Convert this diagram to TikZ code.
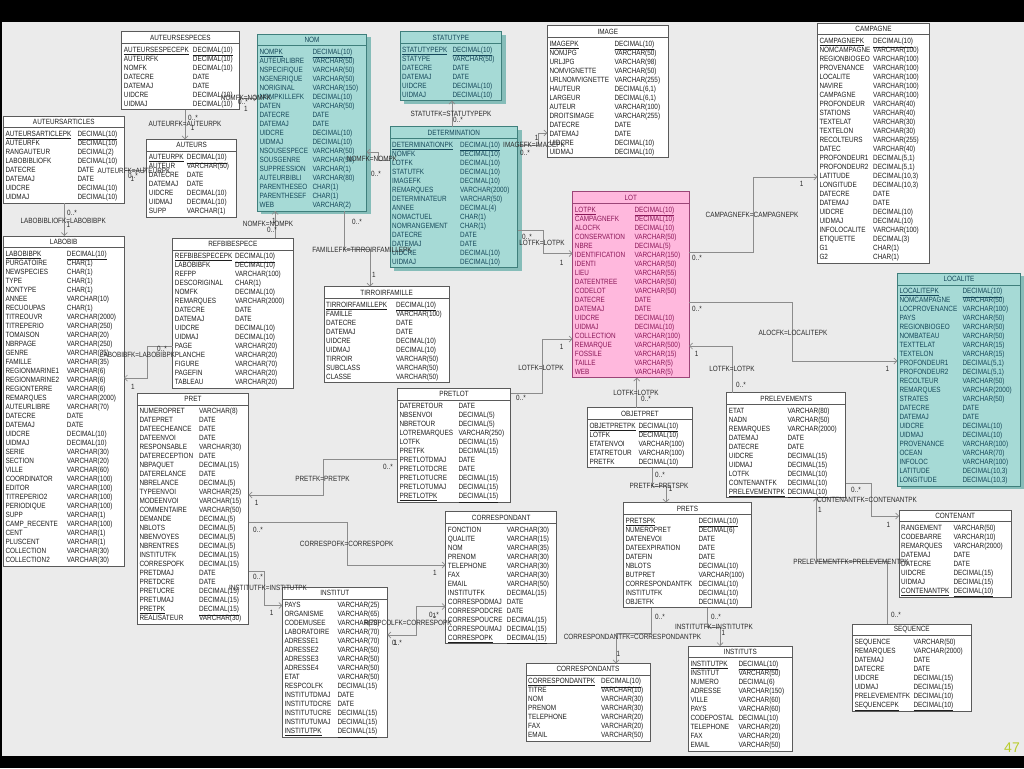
\documentclass[tikz,border=0pt]{standalone}
\usepackage{fontspec}
\setmainfont{Liberation Sans}
\newfontfamily\ertfam{Liberation Sans}[FakeStretch=0.84]
\usetikzlibrary{arrows.meta}
\definecolor{bgcol}{HTML}{EBEBEB}
\definecolor{wtdraw}{HTML}{5A5A5A}
\definecolor{wttext}{HTML}{1E1E1E}
\definecolor{tlfill}{HTML}{A6DAD6}
\definecolor{tldraw}{HTML}{3F7F7C}
\definecolor{tltext}{HTML}{16485A}
\definecolor{tlshadow}{HTML}{86BDB9}
\definecolor{pkfill}{HTML}{FFB8DD}
\definecolor{pkdraw}{HTML}{9B4577}
\definecolor{pktext}{HTML}{8A1858}
\definecolor{conncol}{HTML}{8C8C8C}
\definecolor{labcol}{HTML}{2A2A2A}
\definecolor{numcol}{HTML}{B9CC2A}
\newcommand\ertfont{\ertfam\fontsize{7.6}{8}\selectfont}
\newcommand\ulpk[1]{\underline{#1}}
\tikzset{
 wt/.code={\def\tbfill{white}\def\tbdraw{wtdraw}\def\tbtext{wttext}\def\tbsh{0}},
 tl/.code={\def\tbfill{tlfill}\def\tbdraw{tldraw}\def\tbtext{tltext}\def\tbsh{1}},
 pinkt/.code={\def\tbfill{pkfill}\def\tbdraw{pkdraw}\def\tbtext{pktext}\def\tbsh{0}},
 conn/.style={draw=conncol, line width=0.7pt, -{Straight Barb[length=3pt,width=6pt]}},
 conntwo/.style={draw=conncol, line width=0.7pt, {Straight Barb[length=3pt,width=6pt]}-{Straight Barb[length=3pt,width=6pt]}},
 lab/.style={font=\ertfont, text=labcol, inner sep=0pt},
 cell/.style={font=\ertfont, text=\tbtext, anchor=base west, inner sep=0pt},
}
\newcommand\ertable[9]{%
 \begin{scope}[#2]
 \pgfmathsetmacro\ertB{#4+18+(#7-1)*9+6}%
 \pgfmathsetmacro\ertX{(#3+#5)/2}%
 \pgfmathsetmacro\ertY{(#4+\ertB)/2}%
 \pgfmathsetmacro\ertW{#5-#3}%
 \pgfmathsetmacro\ertH{\ertB-#4}%
 \ifnum\tbsh=1 \fill[tlshadow] ({#3+4},{#4+3}) rectangle ({#5+4},{\ertB+3});\fi
 \node[draw=\tbdraw, fill=\tbfill, line width=0.8pt, minimum width=\ertW pt, minimum height=\ertH pt, inner sep=0pt, outer sep=0pt] (#1) at (\ertX,\ertY) {};
 \node[font=\ertfont, text=\tbtext, inner sep=0pt] (#1-title) at (\ertX,{#4+6}) {#8};
 \draw[draw=\tbdraw, line width=0.6pt] (#3,{#4+11.5}) -- (#5,{#4+11.5});
 \foreach \ca/\cb [count=\ci from 0] in {#9} {
   \node[cell] (#1-n\ci) at ({#3+2},{#4+20.6+\ci*9}) {\ca};
   \node[cell] (#1-t\ci) at (#6,{#4+20.6+\ci*9}) {\cb};
 }
 \end{scope}}
\begin{document}
\begin{tikzpicture}[x=1pt,y=-1pt]
\useasboundingbox (0,0) rectangle (1024,768);
\fill[bgcol] (0,0) rectangle (1024,768);
\fill[black] (0,0) rectangle (1024,22);
\fill[black] (0,756) rectangle (1024,768);
\fill[black] (0,0) rectangle (2,768);

\ertable{AUTEURSESPECES}{wt}{121.7}{31.7}{239}{192.7}{7}{AUTEURSESPECES}{\ulpk{AUTEURSESPECEPK}/\ulpk{DECIMAL(10)}, AUTEURFK/DECIMAL(10), NOMFK/DECIMAL(10), DATECRE/DATE, DATEMAJ/DATE, UIDCRE/DECIMAL(10), UIDMAJ/DECIMAL(10)}

\ertable{NOM}{tl}{257.3}{34}{366.7}{312.3}{18}{NOM}{\ulpk{NOMPK}/\ulpk{DECIMAL(10)}, AUTEURLIBRE/VARCHAR(50), NSPECIFIQUE/VARCHAR(50), NGENERIQUE/VARCHAR(50), NORIGINAL/VARCHAR(150), NOMPKILLEFK/DECIMAL(10), DATEN/VARCHAR(50), DATECRE/DATE, DATEMAJ/DATE, UIDCRE/DECIMAL(10), UIDMAJ/DECIMAL(10), NSOUSESPECE/VARCHAR(50), SOUSGENRE/VARCHAR(50), SUPPRESSION/VARCHAR(1), AUTEURBIBLI/VARCHAR(80), PARENTHESEO/CHAR(1), PARENTHESEF/CHAR(1), WEB/VARCHAR(2)}

\ertable{STATUTYPE}{tl}{400}{31.7}{501.7}{452.3}{6}{STATUTYPE}{\ulpk{STATUTYPEPK}/\ulpk{DECIMAL(10)}, STATYPE/VARCHAR(50), DATECRE/DATE, DATEMAJ/DATE, UIDCRE/DECIMAL(10), UIDMAJ/DECIMAL(10)}

\ertable{IMAGE}{wt}{547.3}{25.7}{668.3}{614.3}{13}{IMAGE}{\ulpk{IMAGEPK}/\ulpk{DECIMAL(10)}, NOMJPG/VARCHAR(50), URLJPG/VARCHAR(98), NOMVIGNETTE/VARCHAR(50), URLNOMVIGNETTE/VARCHAR(255), HAUTEUR/{DECIMAL(6,1)}, LARGEUR/{DECIMAL(6,1)}, AUTEUR/VARCHAR(100), DROITSIMAGE/VARCHAR(255), DATECRE/DATE, DATEMAJ/DATE, UIDCRE/DECIMAL(10), UIDMAJ/DECIMAL(10)}

\ertable{CAMPAGNE}{wt}{817.3}{23.3}{929.7}{873}{25}{CAMPAGNE}{\ulpk{CAMPAGNEPK}/\ulpk{DECIMAL(10)}, NOMCAMPAGNE/VARCHAR(100), REGIONBIOGEO/VARCHAR(100), PROVENANCE/VARCHAR(100), LOCALITE/VARCHAR(100), NAVIRE/VARCHAR(100), CAMPAGNE/VARCHAR(100), PROFONDEUR/VARCHAR(40), STATIONS/VARCHAR(40), TEXTELAT/VARCHAR(30), TEXTELON/VARCHAR(30), RECOLTEURS/VARCHAR(255), DATEC/VARCHAR(40), PROFONDEUR1/{DECIMAL(5,1)}, PROFONDEUR2/{DECIMAL(5,1)}, LATITUDE/{DECIMAL(10,3)}, LONGITUDE/{DECIMAL(10,3)}, DATECRE/DATE, DATEMAJ/DATE, UIDCRE/DECIMAL(10), UIDMAJ/DECIMAL(10), INFOLOCALITE/VARCHAR(100), ETIQUETTE/DECIMAL(3), G1/CHAR(1), G2/CHAR(1)}

\ertable{AUTEURSARTICLES}{wt}{3.3}{116}{124.3}{77.3}{8}{AUTEURSARTICLES}{\ulpk{AUTEURSARTICLEPK}/\ulpk{DECIMAL(10)}, AUTEURFK/DECIMAL(10), RANGAUTEUR/DECIMAL(2), LABOBIBLIOFK/DECIMAL(10), DATECRE/DATE, DATEMAJ/DATE, UIDCRE/DECIMAL(10), UIDMAJ/DECIMAL(10)}

\ertable{AUTEURS}{wt}{146.7}{139.3}{236.7}{186.7}{7}{AUTEURS}{\ulpk{AUTEURPK}/\ulpk{DECIMAL(10)}, AUTEUR/VARCHAR(50), DATECRE/DATE, DATEMAJ/DATE, UIDCRE/DECIMAL(10), UIDMAJ/DECIMAL(10), SUPP/VARCHAR(1)}

\ertable{DETERMINATION}{tl}{390}{126.7}{517.7}{460}{14}{DETERMINATION}{\ulpk{DETERMINATIONPK}/\ulpk{DECIMAL(10)}, NOMFK/DECIMAL(10), LOTFK/DECIMAL(10), STATUTFK/DECIMAL(10), IMAGEFK/DECIMAL(10), REMARQUES/VARCHAR(2000), DETERMINATEUR/VARCHAR(50), ANNEE/DECIMAL(4), NOMACTUEL/CHAR(1), NOMRANGEMENT/CHAR(1), DATECRE/DATE, DATEMAJ/DATE, UIDCRE/DECIMAL(10), UIDMAJ/DECIMAL(10)}

\ertable{LOT}{pinkt}{572.7}{191.7}{689}{634.3}{19}{LOT}{\ulpk{LOTPK}/\ulpk{DECIMAL(10)}, CAMPAGNEFK/DECIMAL(10), ALOCFK/DECIMAL(10), CONSERVATION/VARCHAR(50), NBRE/DECIMAL(5), IDENTIFICATION/VARCHAR(150), IDENTI/VARCHAR(50), LIEU/VARCHAR(55), DATEENTREE/VARCHAR(50), CODELOT/VARCHAR(50), DATECRE/DATE, DATEMAJ/DATE, UIDCRE/DECIMAL(10), UIDMAJ/DECIMAL(10), COLLECTION/VARCHAR(100), REMARQUE/VARCHAR(500), FOSSILE/VARCHAR(15), TAILLE/VARCHAR(5), WEB/VARCHAR(5)}

\ertable{LABOBIB}{wt}{3.3}{236}{124}{66.7}{35}{LABOBIB}{\ulpk{LABOBIBPK}/\ulpk{DECIMAL(10)}, PURGATOIRE/CHAR(1), NEWSPECIES/CHAR(1), TYPE/CHAR(1), NONTYPE/CHAR(1), ANNEE/VARCHAR(10), RECUOUPAS/CHAR(1), TITREOUVR/VARCHAR(2000), TITREPERIO/VARCHAR(250), TOMAISON/VARCHAR(20), NBRPAGE/VARCHAR(250), GENRE/VARCHAR(35), FAMILLE/VARCHAR(35), REGIONMARINE1/VARCHAR(6), REGIONMARINE2/VARCHAR(6), REGIONTERRE/VARCHAR(6), REMARQUES/VARCHAR(2000), AUTEURLIBRE/VARCHAR(70), DATECRE/DATE, DATEMAJ/DATE, UIDCRE/DECIMAL(10), UIDMAJ/DECIMAL(10), SERIE/VARCHAR(30), SECTION/VARCHAR(20), VILLE/VARCHAR(60), COORDINATOR/VARCHAR(100), EDITOR/VARCHAR(100), TITREPERIO2/VARCHAR(100), PERIODIQUE/VARCHAR(100), SUPP/VARCHAR(1), CAMP\_RECENTE/VARCHAR(100), CENT/VARCHAR(1), PLUSCENT/VARCHAR(1), COLLECTION/VARCHAR(30), COLLECTION2/VARCHAR(30)}

\ertable{REFBIBESPECE}{wt}{172.7}{238.3}{293}{235}{15}{REFBIBESPECE}{\ulpk{REFBIBESPECEPK}/\ulpk{DECIMAL(10)}, LABOBIBFK/DECIMAL(10), REFPP/VARCHAR(100), DESCORIGINAL/CHAR(1), NOMFK/DECIMAL(10), REMARQUES/VARCHAR(2000), DATECRE/DATE, DATEMAJ/DATE, UIDCRE/DECIMAL(10), UIDMAJ/DECIMAL(10), PAGE/VARCHAR(20), PLANCHE/VARCHAR(20), FIGURE/VARCHAR(70), PAGEFIN/VARCHAR(20), TABLEAU/VARCHAR(20)}

\ertable{TIRROIRFAMILLE}{wt}{324}{286.7}{449.3}{396}{9}{TIRROIRFAMILLE}{\ulpk{TIRROIRFAMILLEPK}/\ulpk{DECIMAL(10)}, FAMILLE/VARCHAR(100), DATECRE/DATE, DATEMAJ/DATE, UIDCRE/DECIMAL(10), UIDMAJ/DECIMAL(10), TIRROIR/VARCHAR(50), SUBCLASS/VARCHAR(50), CLASSE/VARCHAR(50)}

\ertable{LOCALITE}{tl}{897.3}{273.3}{1020.7}{962.3}{22}{LOCALITE}{\ulpk{LOCALITEPK}/\ulpk{DECIMAL(10)}, NOMCAMPAGNE/VARCHAR(50), LOCPROVENANCE/VARCHAR(100), PAYS/VARCHAR(50), REGIONBIOGEO/VARCHAR(50), NOMBATEAU/VARCHAR(50), TEXTTELAT/VARCHAR(15), TEXTELON/VARCHAR(15), PROFONDEUR1/{DECIMAL(5,1)}, PROFONDEUR2/{DECIMAL(5,1)}, RECOLTEUR/VARCHAR(50), REMARQUES/VARCHAR(2000), STRATES/VARCHAR(50), DATECRE/DATE, DATEMAJ/DATE, UIDCRE/DECIMAL(10), UIDMAJ/DECIMAL(10), PROVENANCE/VARCHAR(100), OCEAN/VARCHAR(70), INFOLOC/VARCHAR(100), LATITUDE/{DECIMAL(10,3)}, LONGITUDE/{DECIMAL(10,3)}}

\ertable{PRETLOT}{wt}{397.3}{388.3}{510.7}{458.3}{11}{PRETLOT}{DATERETOUR/DATE, NBSENVOI/DECIMAL(5), NBRETOUR/DECIMAL(5), LOTREMARQUES/VARCHAR(250), LOTFK/DECIMAL(15), PRETFK/DECIMAL(15), PRETLOTDMAJ/DATE, PRETLOTDCRE/DATE, PRETLOTUCRE/DECIMAL(15), PRETLOTUMAJ/DECIMAL(15), \ulpk{PRETLOTPK}/\ulpk{DECIMAL(15)}}

\ertable{OBJETPRET}{wt}{587.3}{407.7}{692.7}{638.3}{5}{OBJETPRET}{\ulpk{OBJETPRETPK}/\ulpk{DECIMAL(10)}, LOTFK/DECIMAL(10), ETATENVOI/VARCHAR(100), ETATRETOUR/VARCHAR(100), PRETFK/DECIMAL(10)}

\ertable{PRELEVEMENTS}{wt}{726.7}{392.7}{845.7}{787.3}{10}{PRELEVEMENTS}{ETAT/VARCHAR(80), NADN/VARCHAR(50), REMARQUES/VARCHAR(2000), DATEMAJ/DATE, DATECRE/DATE, UIDCRE/DECIMAL(15), UIDMAJ/DECIMAL(15), LOTFK/DECIMAL(10), CONTENANTFK/DECIMAL(10), \ulpk{PRELEVEMENTPK}/\ulpk{DECIMAL(10)}}

\ertable{PRET}{wt}{137.3}{393.3}{248.7}{199}{24}{PRET}{NUMEROPRET/VARCHAR(8), DATEPRET/DATE, DATEECHEANCE/DATE, DATEENVOI/DATE, RESPONSABLE/VARCHAR(30), DATERECEPTION/DATE, NBPAQUET/DECIMAL(15), DATERELANCE/DATE, NBRELANCE/DECIMAL(5), TYPEENVOI/VARCHAR(25), MODEENVOI/VARCHAR(15), COMMENTAIRE/VARCHAR(50), DEMANDE/DECIMAL(5), NBLOTS/DECIMAL(5), NBENVOYES/DECIMAL(5), NBRENTRES/DECIMAL(5), INSTITUTFK/DECIMAL(15), CORRESPOFK/DECIMAL(15), PRETDMAJ/DATE, PRETDCRE/DATE, PRETUCRE/DECIMAL(15), PRETUMAJ/DECIMAL(15), \ulpk{PRETPK}/\ulpk{DECIMAL(15)}, REALISATEUR/VARCHAR(30)}

\ertable{CORRESPONDANT}{wt}{445.7}{511.7}{556.7}{506.7}{13}{CORRESPONDANT}{FONCTION/VARCHAR(30), QUALITE/VARCHAR(15), NOM/VARCHAR(35), PRENOM/VARCHAR(30), TELEPHONE/VARCHAR(30), FAX/VARCHAR(30), EMAIL/VARCHAR(50), INSTITUTFK/DECIMAL(15), CORRESPODMAJ/DATE, CORRESPODCRE/DATE, CORRESPOUCRE/DECIMAL(15), CORRESPOUMAJ/DECIMAL(15), \ulpk{CORRESPOPK}/\ulpk{DECIMAL(15)}}

\ertable{PRETS}{wt}{623.3}{502.7}{751.7}{698.3}{10}{PRETS}{\ulpk{PRETSPK}/\ulpk{DECIMAL(10)}, NUMEROPRET/DECIMAL(6), DATENEVOI/DATE, DATEEXPIRATION/DATE, DATEFIN/DATE, NBLOTS/DECIMAL(10), BUTPRET/VARCHAR(100), CORRESPONDANTFK/DECIMAL(10), INSTITUTFK/DECIMAL(10), OBJETFK/DECIMAL(10)}

\ertable{CONTENANT}{wt}{899}{510}{1011.3}{953.3}{8}{CONTENANT}{RANGEMENT/VARCHAR(50), CODEBARRE/VARCHAR(10), REMARQUES/VARCHAR(2000), DATEMAJ/DATE, DATECRE/DATE, UIDCRE/DECIMAL(15), UIDMAJ/DECIMAL(15), \ulpk{CONTENANTPK}/\ulpk{DECIMAL(10)}}

\ertable{INSTITUT}{wt}{282.3}{587.3}{387.3}{337.3}{15}{INSTITUT}{PAYS/VARCHAR(25), ORGANISME/VARCHAR(65), CODEMUSEE/VARCHAR(70), LABORATOIRE/VARCHAR(70), ADRESSE1/VARCHAR(70), ADRESSE2/VARCHAR(50), ADRESSE3/VARCHAR(50), ADRESSE4/VARCHAR(50), ETAT/VARCHAR(50), RESPCOLFK/DECIMAL(15), INSTITUTDMAJ/DATE, INSTITUTDCRE/DATE, INSTITUTUCRE/DECIMAL(15), INSTITUTUMAJ/DECIMAL(15), \ulpk{INSTITUTPK}/\ulpk{DECIMAL(15)}}

\ertable{CORRESPONDANTS}{wt}{526}{663.3}{650}{601}{7}{CORRESPONDANTS}{\ulpk{CORRESPONDANTPK}/\ulpk{DECIMAL(10)}, TITRE/VARCHAR(10), NOM/VARCHAR(30), PRENOM/VARCHAR(30), TELEPHONE/VARCHAR(20), FAX/VARCHAR(20), EMAIL/VARCHAR(50)}

\ertable{INSTITUTS}{wt}{688.3}{646}{792.3}{738.3}{10}{INSTITUTS}{\ulpk{INSTITUTPK}/\ulpk{DECIMAL(10)}, INSTITUT/VARCHAR(50), NUMERO/DECIMAL(6), ADRESSE/VARCHAR(150), VILLE/VARCHAR(60), PAYS/VARCHAR(60), CODEPOSTAL/DECIMAL(10), TELEPHONE/VARCHAR(20), FAX/VARCHAR(20), EMAIL/VARCHAR(50)}

\ertable{SEQUENCE}{wt}{852.3}{624}{971.3}{913.3}{8}{SEQUENCE}{SEQUENCE/VARCHAR(50), REMARQUES/VARCHAR(2000), DATEMAJ/DATE, DATECRE/DATE, UIDCRE/DECIMAL(15), UIDMAJ/DECIMAL(15), PRELEVEMENTFK/DECIMAL(10), \ulpk{SEQUENCEPK}/\ulpk{DECIMAL(10)}}

% connectors
\draw[conn] (AUTEURSESPECES.south -| 185,0) -- (AUTEURS.north -| 185,0);
\draw[conn] (AUTEURSARTICLES.east |- 0,170) -- (AUTEURS.west |- 0,170);
\draw[conn] (AUTEURSESPECES.east |- 0,98) -- (NOM.west |- 0,98);
\draw[conn] (REFBIBESPECE.north -| 275,0) -- (NOM.south -| 275,0);
\draw[conn] (DETERMINATION.west |- 0,160) -- (378,160) -- (378,152) -- (NOM.east |- 0,152);
\draw[conn] (DETERMINATION.north -| 452,0) -- (STATUTYPE.south -| 452,0);
\draw[conn] (DETERMINATION.east |- 0,145) -- (538,145) -- (538,133) -- (IMAGE.west |- 0,133);
\draw[conn] (DETERMINATION.east |- 0,230.5) -- (543.3,230.5) -- (543.3,253.5) -- (LOT.west |- 0,253.5);
\draw[conn] (LOT.east |- 0,252) -- (753.3,252) -- (753.3,177) -- (CAMPAGNE.west |- 0,177);
\draw[conn] (LOT.east |- 0,302.5) -- (792.3,302.5) -- (792.3,361) -- (LOCALITE.west |- 0,361);
\draw[conn] (NOM.south -| 344.3,0) -- (344.3,249) -- (370,249) -- (TIRROIRFAMILLE.north -| 370,0);
\draw[conn] (AUTEURSARTICLES.south -| 64.3,0) -- (LABOBIB.north -| 64.3,0);
\draw[conn] (REFBIBESPECE.west |- 0,346) -- (147,346) -- (147,378) -- (LABOBIB.east |- 0,378);
\draw[conn] (PRETLOT.west |- 0,459.3) -- (323.3,459.3) -- (323.3,495) -- (PRET.east |- 0,495);
\draw[conn] (PRET.east |- 0,522.7) -- (347.3,522.7) -- (347.3,565) -- (CORRESPONDANT.west |- 0,565);
\draw[conn] (PRET.east |- 0,571) -- (264,571) -- (264,605.5) -- (INSTITUT.west |- 0,605.5);
\draw[conntwo] (INSTITUT.east |- 0,635) -- (416,635) -- (416,606.5) -- (CORRESPONDANT.west |- 0,606.5);
\draw[conn] (PRETLOT.east |- 0,393.3) -- (542.3,393.3) -- (542.3,339) -- (LOT.west |- 0,339);
\draw[conn] (OBJETPRET.north -| 636.7,0) -- (LOT.south -| 636.7,0);
\draw[conn] (PRELEVEMENTS.north -| 732.7,0) -- (732.7,346) -- (LOT.east |- 0,346);
\draw[conn] (OBJETPRET.south -| 652.7,0) -- (652.7,486) -- (666,486) -- (PRETS.north -| 666,0);
\draw[conn] (PRETS.south -| 651.7,0) -- (651.7,633.3) -- (616,633.3) -- (CORRESPONDANTS.north -| 616,0);
\draw[conn] (PRETS.south -| 707.3,0) -- (707.3,627) -- (720,627) -- (INSTITUTS.north -| 720,0);
\draw[conn] (PRELEVEMENTS.east |- 0,483.3) -- (871.3,483.3) -- (871.3,516) -- (CONTENANT.west |- 0,516);
\draw[conn] (SEQUENCE.north -| 887.3,0) -- (887.3,561.7) -- (816.3,561.7) -- (PRELEVEMENTS.south -| 816.3,0);

% labels
\node[lab] (l1) at (185,124) {AUTEURFK=AUTEURPK};
\node[lab] (c1a) at (193,118) {0..*}; \node[lab] (c1b) at (192.7,127.5) {1};
\node[lab] (l2) at (134,170.7) {AUTEURFK=AUTEURPK};
\node[lab] (c2a) at (133,175.5) {0..*}; \node[lab] (c2b) at (132.5,178.5) {1};
\node[lab] (l3) at (246,97.5) {NOMFK=NOMPK};
\node[lab] (c3a) at (243,102) {0..*}; \node[lab] (c3b) at (246,109) {1};
\node[lab] (l4) at (268,223.5) {NOMFK=NOMPK};
\node[lab] (c4a) at (272,229.5) {0..*}; \node[lab] (c4b) at (274,220.5) {1};
\node[lab] (l5) at (372,159.3) {NOMFK=NOMPK};
\node[lab] (c5a) at (376,174) {0..*};
\node[lab] (l6) at (451,114.3) {STATUTFK=STATUTYPEPK};
\node[lab] (c6a) at (458,119.5) {0..*};
\node[lab] (l7) at (534,145) {IMAGEFK=IMAGEPK};
\node[lab] (c7a) at (525,153) {0..*}; \node[lab] (c7b) at (536.7,138.3) {1};
\node[lab] (l8) at (542,242.7) {LOTFK=LOTPK};
\node[lab] (c8a) at (527,237.3) {0..*}; \node[lab] (c8b) at (561.7,263.3) {1};
\node[lab] (l9) at (752,215) {CAMPAGNEFK=CAMPAGNEPK};
\node[lab] (c9a) at (697,258.3) {0..*}; \node[lab] (c9b) at (801.7,184) {1};
\node[lab] (l10) at (793,332.7) {ALOCFK=LOCALITEPK};
\node[lab] (c10a) at (697,309.3) {0..*}; \node[lab] (c10b) at (887.3,369) {1};
\node[lab] (l11) at (362,250) {FAMILLEFK=TIRROIRFAMILLEPK};
\node[lab] (c11a) at (357,221.5) {0..*}; \node[lab] (c11b) at (374,275) {1};
\node[lab] (l12) at (63.3,221) {LABOBIBLIOFK=LABOBIBPK};
\node[lab] (c12a) at (72,212.7) {0..*}; \node[lab] (c12b) at (68.3,225) {1};
\node[lab] (l13) at (137.5,355) {LABOBIBFK=LABOBIBPK};
\node[lab] (c13a) at (162,349) {0..*}; \node[lab] (c13b) at (133,387) {1};
\node[lab] (l14) at (322.5,479) {PRETFK=PRETPK};
\node[lab] (c14a) at (388,466.7) {0..*}; \node[lab] (c14b) at (256.7,503.3) {1};
\node[lab] (l15) at (346.7,544.3) {CORRESPOFK=CORRESPOPK};
\node[lab] (c15a) at (258,530) {0..*}; \node[lab] (c15b) at (435,573.3) {1};
\node[lab] (l16) at (268,588.3) {INSTITUTFK=INSTITUTPK};
\node[lab] (c16a) at (258,577.3) {0..*}; \node[lab] (c16b) at (271.7,613.3) {1};
\node[lab] (l17) at (408,622.7) {RESPCOLFK=CORRESPOPK};
\node[lab] (c17a) at (434,615) {0..*}; \node[lab] (c17b) at (434.5,615.5) {1};
\node[lab] (c17c) at (397,643.3) {0..*}; \node[lab] (c17d) at (395.5,643.3) {1};
\node[lab] (l18) at (541,368.3) {LOTFK=LOTPK};
\node[lab] (c18a) at (521,398.3) {0..*}; \node[lab] (c18b) at (561.7,346.7) {1};
\node[lab] (l19) at (636,393.3) {LOTFK=LOTPK};
\node[lab] (c19a) at (646,399) {0..*};
\node[lab] (l20) at (732,369) {LOTFK=LOTPK};
\node[lab] (c20a) at (741,385) {0..*}; \node[lab] (c20b) at (696.7,354) {1};
\node[lab] (l21) at (659,485.7) {PRETFK=PRETSPK};
\node[lab] (c21a) at (660,475) {0..*}; \node[lab] (c21b) at (670.7,489.3) {1};
\node[lab] (l22) at (632.5,636.7) {CORRESPONDANTFK=CORRESPONDANTPK};
\node[lab] (c22a) at (660,616.7) {0..*}; \node[lab] (c22b) at (618.3,654) {1};
\node[lab] (l23) at (714,627.3) {INSTITUTFK=INSTITUTPK};
\node[lab] (c23a) at (716,616.7) {0..*}; \node[lab] (c23b) at (723.3,632.7) {1};
\node[lab] (l24) at (867,500) {CONTENANTFK=CONTENANTPK};
\node[lab] (c24a) at (856,490) {0..*}; \node[lab] (c24b) at (888.3,525) {1};
\node[lab] (l25) at (851,561.7) {PRELEVEMENTFK=PRELEVEMENTPK};
\node[lab] (c25a) at (896,615) {0..*}; \node[lab] (c25b) at (820,510) {1};

\node[font=\fontsize{14}{14}\selectfont, text=numcol, inner sep=0pt] (pagenum) at (1012,748) {47};
\end{tikzpicture}
\end{document}
